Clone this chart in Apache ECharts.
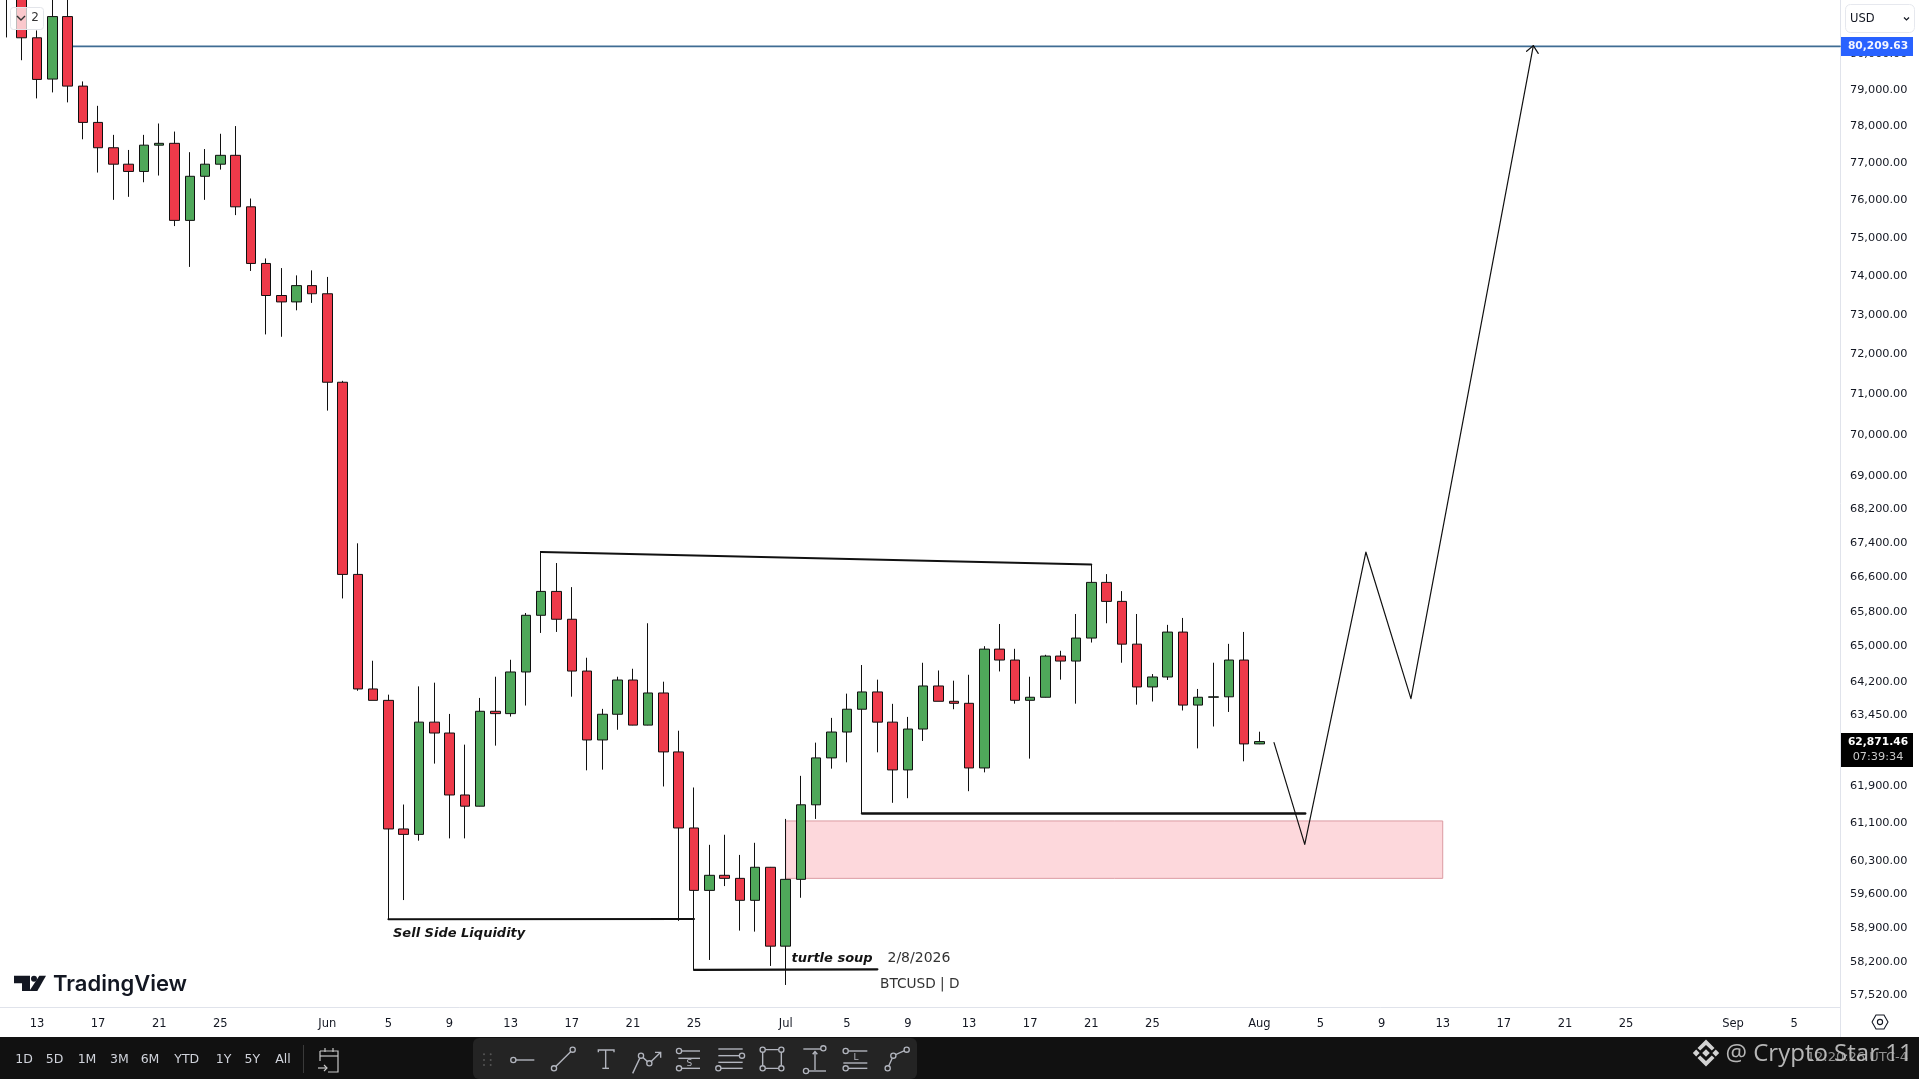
<!DOCTYPE html>
<html><head><meta charset="utf-8">
<style>html,body{margin:0;padding:0;background:#fff}#c{width:1919px;height:1079px}</style>
<script src="https://cdn.jsdelivr.net/npm/echarts@6/dist/echarts.min.js"></script>
</head><body><div id="c"></div>
<script>
// Days are counted from 1 June (day 0).
const firstDay = -21;
const opens = [82300,82000,80450,79295,81050,79100,78100,77410,76965,76770,77480,77530,75465,76640,76965,77205,75825,74335,73505,73340,73760,
 73550,71305,66663,64041,63786,60976,60860,63301,63060,61706,61464,63542,63490,64423,65715,66267,65624,64444,62907,63476,64242,63235,63951,62644,60997,59678,59994,59930,59470,60163,
 58523,59909,61494,62513,63082,63588,63974,63301,62250,63148,64108,63765,63720,62293,64941,64693,63787,63855,64783,64670,65193,66477,66036,65054,64086,64310,65330,63680,63855,63865,64693,62820];
const closes = [81900,80450,79285,81050,79100,78100,77410,76965,76770,77480,77530,75465,76640,76965,77205,75825,74335,73505,73340,73760,73550,
 71305,66663,64041,63786,60976,60860,63301,63060,61706,61464,63542,63490,64423,65715,66267,65624,64444,62907,63476,64242,63235,63951,62644,60997,59678,59994,59930,59470,60163,58523,
 59909,61494,62513,63082,63588,63974,63301,62250,63148,64108,63765,63720,62293,64941,64693,63787,63855,64783,64670,65193,66477,66036,65054,64086,64310,65330,63680,63855,63865,64693,62820,62871.46];
const lows = [80460,79820,78760,78925,78650,77640,76740,76010,76090,76480,76660,75315,74245,76010,76820,75605,74140,72510,72450,73125,73315,
 70600,66104,64000,63786,59079,59476,60726,62388,60775,60775,61460,62782,63424,63670,65310,65333,63868,62241,62256,63132,63230,63230,61890,59044,58038,58241,59768,58843,58822,58119,
 57733,59524,61191,62278,62416,61306,62635,61537,61637,62885,63765,63588,61788,62197,64435,63712,62497,63850,64250,63712,65091,65532,64632,63690,63760,64243,63560,62722,63204,63527,62438,62815];
const highs = [82500,82400,80657,81700,81700,79230,78555,77760,77350,77760,78070,77850,77290,77375,77790,78000,76045,74465,74215,74025,74155,
 73985,71340,67393,64677,63913,61500,64099,64182,63483,62804,63840,64316,64699,65768,67212,66929,66367,64745,63596,64316,64496,65532,64204,63111,61868,60638,60852,60424,60681,60170,
 61191,62121,62848,63395,63936,64580,64250,63708,63417,64631,64457,64227,64360,65008,65515,64948,64316,64812,64903,65745,66895,66670,66274,65745,64376,65495,65654,64041,64632,65061,65333,63089];

const xTickDays = [-19,-15,-11,-7,0,4,8,12,16,20,24,30,34,38,42,46,50,54,61,65,69,73,77,81,85,92,96];
const xTickLabels = ['13','17','21','25','Jun','5','9','13','17','21','25','Jul','5','9','13','17','21','25','Aug','5','9','13','17','21','25','Sep','5'];
const yTicks = [80000,79000,78000,77000,76000,75000,74000,73000,72000,71000,70000,69000,68200,67400,66600,65800,65000,64200,63450,61900,61100,60300,59600,58900,58200,57520];

const targetPrice = 80209.63;
const targetStartDay = -17;
const xMin = -21.42, xMax = 99.0, yMin = 57289, yMax = 81522;

const zoneDays = [30, 73];
const zonePrices = [59930, 61147];

const highLineDays = [14, 50];        const highLinePrices = [67190, 66895];
const sellSideDays = [4, 24];         const sellSidePrices = [59079, 59085];
const turtleDays = [24, 36];          const turtlePrices = [58038, 58050];
const midLineDays = [35, 64];         const midLinePrices = [61306, 61306];
const pathDays = [61.96, 63.97, 67.97, 70.92, 78.93];
const pathPrices = [62848, 60649, 67188, 63826, 80230];
const arrowDays = [78.49, 78.93, 79.25];
const arrowPrices = [80070, 80230, 80010];

const pairs = (a, b) => a.map((v, i) => [v, b[i]]);
const candleData = opens.map((o, i) => [firstDay + i, o, closes[i], lows[i], highs[i]]);
const FONT = '"DejaVu Sans"';

const lineSeries = (days, prices, width, color, z) => ({
  type: 'line', data: pairs(days, prices), showSymbol: false, symbol: 'none', silent: true,
  lineStyle: { color, width, cap: 'round', join: 'round' }, z, animation: false
});

// ---- chrome (page furniture, not data) ----
const g = [];
const rect = (x, y, w, h, fill, stroke, r, lw) => g.push({ type: 'rect', shape: { x, y, width: w, height: h, r: r || 0 }, style: { fill: fill || 'none', stroke: stroke || 'none', lineWidth: lw || 1 }, z: 100, silent: true });
const text = (s, x, y, size, fill, o) => g.push({ type: 'text', style: Object.assign({ text: s, x, y, fill, font: `${size}px ${FONT}`, textAlign: 'center', textVerticalAlign: 'middle' }, o || {}), z: 101, silent: true });
const poly = (pts, stroke, lw, z) => g.push({ type: 'polyline', shape: { points: pts }, style: { stroke, lineWidth: lw, fill: 'none' }, z: z || 102, silent: true });
const polygon = (pts, fill, z) => g.push({ type: 'polygon', shape: { points: pts }, style: { fill, stroke: 'none' }, z: z || 102, silent: true });
const circle = (x, y, r, stroke, fill, lw) => g.push({ type: 'circle', shape: { cx: x, cy: y, r }, style: { stroke: stroke || 'none', fill: fill || 'none', lineWidth: lw || 1.2 }, z: 102, silent: true });

// price-axis separator through the label row
poly([[1840.5, 1007], [1840.5, 1037]], '#e0e3eb', 1);

// bottom bar
rect(0, 1037, 1919, 42, '#111111');
[['1D',24],['5D',54.5],['1M',87],['3M',119.4],['6M',150],['YTD',186.8],['1Y',223.5],['5Y',252.3],['All',283]].forEach(t => text(t[0], t[1], 1060, 12.5, '#d1d4dc'));
poly([[303.5,1045],[303.5,1073]], '#3a3a3a', 1);
// calendar-arrow icon
poly([[320,1051],[338,1051],[338,1072],[328,1072]], '#c8c8c8', 1.2);
poly([[320,1051],[320,1061]], '#c8c8c8', 1.2);
poly([[320,1056],[338,1056]], '#c8c8c8', 1.2);
poly([[325,1048],[325,1052]], '#c8c8c8', 1.2);
poly([[333,1048],[333,1052]], '#c8c8c8', 1.2);
poly([[318,1068],[327,1068]], '#c8c8c8', 1.2);
poly([[324,1065],[327,1068],[324,1071]], '#c8c8c8', 1.2);

// drawing toolbar
rect(473, 1038, 444, 41, '#242424', null, 6);
const ix = X => 470 + X / 3, iy = Y => 1035 + Y / 3;
const ic = '#b2b5be';
const L = (pts) => poly(pts.map(p => [ix(p[0]), iy(p[1])]), ic, 1.4);
const C = (X, Y) => circle(ix(X), iy(Y), 2.6, ic, '#242424', 1.3);
[[42,58],[62,58],[42,75],[62,75],[42,90],[62,90]].forEach(p => circle(ix(p[0]), iy(p[1]), 1, null, '#555'));
L([[135,75],[193,75]]); C(130,75);
L([[252,100],[308,44]]); C(252,100); C(308,44);
L([[385,52],[385,45],[432,45],[432,52]]); L([[407,45],[407,100]]); L([[397,100],[417,100]]);
L([[488,115],[513,62],[538,85],[572,52]]); L([[555,52],[572,52],[572,68]]); C(513,62); C(538,85);
L([[627,48],[690,48]]); L([[625,70],[690,70]]); L([[627,100],[690,100]]); C(627,48); C(627,100);
text('S', ix(658), iy(85), 9, ic);
L([[745,42],[818,42]]); L([[745,62],[816,62]]); L([[745,82],[818,82]]); L([[745,100],[818,100]]); C(816,62); C(745,100);
L([[878,44],[934,44],[934,100],[878,100],[878,44]]); C(878,44); C(934,44); C(878,100); C(934,100);
L([[1000,42],[1060,42]]); L([[1035,50],[1035,105]]); L([[1028,58],[1035,50],[1042,58]]); L([[1008,108],[1068,108]]); C(1060,40); C(1008,108);
L([[1127,48],[1192,48]]); L([[1120,84],[1192,84]]); L([[1127,100],[1192,100]]); C(1127,48); C(1127,100);
text('L', ix(1158), iy(68), 9, ic);
L([[1253,100],[1270,62],[1310,44]]); C(1253,100); C(1270,62); C(1310,44);

// watermark over clock
const bx = 1706, by = 1053, wm = '#d2d2d2';
const shift = pts => pts.map(p => [bx + p[0], by + p[1]]);
const dia = (x, y, s) => polygon(shift([[x, y - s], [x + s, y], [x, y + s], [x - s, y]]), wm);
dia(0, 0, 3.8); dia(-9.8, 0, 3.4); dia(9.8, 0, 3.4);
polygon(shift([[0,-13.5],[8.5,-5],[5.8,-2.4],[0,-8],[-5.8,-2.4],[-8.5,-5]]), wm);
polygon(shift([[0,13.5],[8.5,5],[5.8,2.4],[0,8],[-5.8,2.4],[-8.5,5]]), wm);
text('@ Crypto Star 11', 1725.5, 1054, 24, 'rgba(205,205,205,0.88)', { textAlign: 'left', font: '24px "Open Sans"' });
text('12:20:26 UTC-4', 1908, 1058, 13, 'rgba(190,190,190,0.75)', { textAlign: 'right' });

// gear
poly([[1872,1022],[1876,1015],[1884,1015],[1888,1022],[1884,1029],[1876,1029],[1872,1022]], '#131722', 1.1);
circle(1880, 1022, 2.6, '#131722', 'none', 1.1);

// price tags
rect(1845.5, 4.5, 69, 28, '#fff', '#e6e8ee', 5);
text('USD', 1850, 19, 11.5, '#131722', { textAlign: 'left' });
poly([[1904,17.5],[1906.5,20],[1909,17.5]], '#131722', 1.2);
rect(1841, 37, 72, 19, '#2962ff');
text('80,209.63', 1878, 46.5, 10.7, '#f4f6ff', { font: `bold 10.7px ${FONT}` });
rect(1841, 733, 72, 34, '#000');
text('62,871.46', 1878, 742, 10.7, '#ffffff', { font: `bold 10.7px ${FONT}` });
text('07:39:34', 1878, 757, 11.3, '#c9c9c9');

// top-left chip
rect(10.5, 7.5, 33, 22, 'rgba(255,255,255,0.72)', '#e3e5ea', 3);
poly([[17,16],[21,20],[25,16]], '#333', 1.4);
text('2', 35, 18, 12, '#333');

// TradingView mark
const lx = X => X / 3, ly = Y => 965 + Y / 3;
polygon([[42,32],[90,32],[90,78],[66,78],[66,55],[42,55]].map(p => [lx(p[0]), ly(p[1])]), '#131722');
circle(lx(102), ly(41), 3, null, '#131722');
polygon([[118,32],[138,32],[112,78],[88,78]].map(p => [lx(p[0]), ly(p[1])]), '#131722');
text('TradingView', 53, 984.5, 22, '#131722', { textAlign: 'left', font: '600 22px Inter' });

// annotations
text('Sell Side Liquidity', 393, 934, 13, '#141414', { textAlign: 'left', font: `italic bold 13px ${FONT}` });
text('turtle soup', 791.5, 958.5, 13, '#141414', { textAlign: 'left', font: `italic bold 13px ${FONT}` });
text('2/8/2026', 887.5, 958, 14, '#333', { textAlign: 'left' });
text('BTCUSD | D', 880, 984, 13.7, '#333', { textAlign: 'left' });

const option = {
  animation: false,
  backgroundColor: '#fff',
  textStyle: { fontFamily: FONT },
  grid: { left: 0, right: 79, top: 0, bottom: 72, containLabel: false },
  xAxis: {
    type: 'value', min: xMin, max: xMax, scale: true,
    splitLine: { show: false },
    axisLine: { show: true, onZero: false, lineStyle: { color: '#e0e3eb', width: 1 } },
    axisTick: { show: false },
    axisLabel: {
      customValues: xTickDays, margin: 11, fontSize: 11.5, color: '#131722', fontFamily: FONT,
      hideOverlap: false, showMinLabel: true, showMaxLabel: true,
      formatter: v => { const i = xTickDays.indexOf(Math.round(v)); return i < 0 ? '' : xTickLabels[i]; }
    }
  },
  yAxis: {
    type: 'log', logBase: 10, min: yMin, max: yMax, position: 'right',
    splitLine: { show: false }, minorTick: { show: false },
    axisLine: { show: true, onZero: false, lineStyle: { color: '#e0e3eb', width: 1 } },
    axisTick: { show: false },
    axisLabel: {
      customValues: yTicks, margin: 10, fontSize: 11.3, color: '#131722', fontFamily: FONT, padding: [2, 0, 0, 0],
      formatter: v => v.toLocaleString('en-US', { minimumFractionDigits: 2, maximumFractionDigits: 2 })
    }
  },
  series: [
    {
      type: 'custom', z: 1, silent: true, clip: true,
      data: [[zoneDays[0], zoneDays[1], zonePrices[0], zonePrices[1]]],
      encode: { x: [0, 1], y: [2, 3] },
      renderItem: (p, api) => {
        const a = api.coord([api.value(0), api.value(3)]);
        const b = api.coord([api.value(1), api.value(2)]);
        return { type: 'rect', shape: { x: a[0], y: a[1], width: b[0] - a[0], height: b[1] - a[1] },
          style: { fill: '#fdd8dc', stroke: '#dc9aa2', lineWidth: 1 } };
      }
    },
    lineSeries([targetStartDay, xMax], [targetPrice, targetPrice], 1.8, '#3f6c93', 2),
    {
      type: 'candlestick', data: candleData, barWidth: 10, z: 3, silent: true,
      encode: { x: 0, y: [1, 2, 3, 4] },
      itemStyle: { color: '#4fa85a', color0: '#ee3a4a', borderColor: '#101010', borderColor0: '#101010', borderColorDoji: '#101010', borderWidth: 1 }
    },
    lineSeries(highLineDays, highLinePrices, 2, '#111', 4),
    lineSeries(sellSideDays, sellSidePrices, 2, '#111', 4),
    lineSeries(turtleDays, turtlePrices, 2.2, '#111', 4),
    lineSeries(midLineDays, midLinePrices, 2.4, '#111', 4),
    lineSeries(pathDays, pathPrices, 1.2, '#111', 4),
    lineSeries(arrowDays, arrowPrices, 1.2, '#111', 4)
  ],
  graphic: { elements: g }
};
const chart = echarts.init(document.getElementById('c'), null, { renderer: 'canvas', width: 1919, height: 1079 });
chart.setOption(option);
</script></body></html>
